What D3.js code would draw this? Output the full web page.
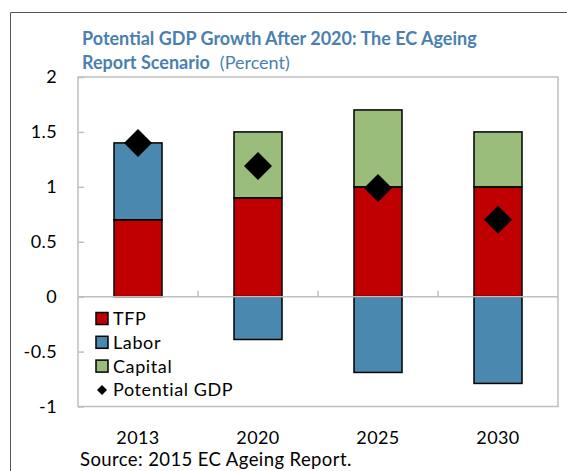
<!DOCTYPE html>
<html><head><meta charset="utf-8">
<script src="https://cdn.jsdelivr.net/npm/d3@7"></script>
<style>body{margin:0;background:#fff}svg{display:block}text{font-family:Lato,"Open Sans",sans-serif}</style>
</head><body><svg id="c" width="567" height="471"></svg>
<script>
const categories = ["2013","2020","2025","2030"];
const tfp = [0.7, 0.9, 1.0, 1.0];
const labor = [0.7, -0.39, -0.69, -0.79];
const capital = [0.0, 0.6, 0.7, 0.5];
const gdp = [1.4, 1.19, 0.99, 0.7];
const yTicks = [2, 1.5, 1, 0.5, 0, -0.5, -1];
const seriesNames = ["TFP","Labor","Capital","Potential GDP"];
const colors = {TFP:"#C00000", Labor:"#4A88AF", Capital:"#9BBD7B"};

const svg = d3.select("#c");
const L = 78, R = 558, T = 77, B = 406.5;
const x = d3.scaleBand().domain(categories).range([L, R]).paddingInner(0.6).paddingOuter(0.3);
const xb = d3.scaleBand().domain(categories).range([L, R]);
const y = d3.scaleLinear().domain([-1, 2]).range([B, T]);

// outer frame
svg.append("path").attr("d", `M10.5,480 V12.5 H580`).attr("fill","none").attr("stroke","#555").attr("stroke-width",1);

// title
svg.append("text").attr("x", 82).attr("y", 45).attr("fill","#4A7FB0").attr("font-weight","bold").attr("font-size", 18)
  .text("Potential GDP Growth After 2020: The EC Ageing");
const t2 = svg.append("text").attr("x", 82).attr("y", 69).attr("fill","#4A7FB0").attr("font-size",18);
t2.append("tspan").attr("font-weight","bold").text("Report Scenario");
t2.append("tspan").attr("dx", 10).text("(Percent)");

// plot border
svg.append("rect").attr("x", L).attr("y", T).attr("width", R-L).attr("height", B-T).attr("fill","none").attr("stroke","#BFBFBF").attr("stroke-width",1.5);

// y axis
const yAxis = d3.axisLeft(y).tickValues(yTicks).tickSize(-6).tickPadding(21).tickFormat(d => String(d));
const ya = svg.append("g").attr("transform", `translate(${L},0)`).call(yAxis);
ya.select(".domain").remove();
ya.selectAll("line").attr("stroke","#BFBFBF").attr("stroke-width",1.5);
ya.selectAll("text").attr("font-size",18).attr("fill","#000").attr("letter-spacing","0.4px").style("font-family","Lato,'Open Sans',sans-serif");

// bars
const stacks = categories.map((c,i) => {
  const segs = [];
  let pos = 0, neg = 0;
  [["TFP",tfp[i]],["Labor",labor[i]],["Capital",capital[i]]].forEach(([k,v]) => {
    if (v >= 0) { segs.push({k, c, y0: pos, y1: pos + v}); pos += v; }
    else { segs.push({k, c, y0: neg + v, y1: neg}); neg += v; }
  });
  return segs;
}).flat().filter(s => s.y1 - s.y0 > 0);

svg.append("g").selectAll("rect").data(stacks).join("rect")
  .attr("x", d => x(d.c)).attr("width", x.bandwidth())
  .attr("y", d => y(d.y1)).attr("height", d => y(d.y0) - y(d.y1))
  .attr("fill", d => colors[d.k]).attr("stroke","#000").attr("stroke-width",1.5);

// zero line + category ticks
svg.append("line").attr("x1", L).attr("x2", R).attr("y1", y(0)).attr("y2", y(0)).attr("stroke","#BFBFBF").attr("stroke-width",1.5);
svg.append("g").selectAll("line").data(categories.slice(1)).join("line")
  .attr("x1", d => xb(d)).attr("x2", d => xb(d)).attr("y1", y(0)).attr("y2", y(0)-6)
  .attr("stroke","#BFBFBF").attr("stroke-width",1.5);

// diamonds
const dsz = 14;
svg.append("g").selectAll("path").data(categories).join("path")
  .attr("transform", (d,i) => `translate(${xb(d)+xb.bandwidth()/2},${y(gdp[i])})`)
  .attr("d", `M0,${-dsz} L${dsz},0 L0,${dsz} L${-dsz},0 Z`).attr("fill","#000");

// x labels
svg.append("g").selectAll("text").data(categories).join("text")
  .attr("x", d => xb(d)+xb.bandwidth()/2).attr("y", 444).attr("text-anchor","middle")
  .attr("font-size",18).attr("letter-spacing","0.4px").text(d => d);

// legend
const lg = svg.append("g");
seriesNames.forEach((n,i) => {
  const yy = 319 + i*23.8;
  if (n !== "Potential GDP") {
    lg.append("rect").attr("x", 96).attr("y", yy-6.5).attr("width", 12).attr("height", 12)
      .attr("fill", colors[n]).attr("stroke","#000").attr("stroke-width",1.5);
  } else {
    lg.append("path").attr("transform", `translate(102,${yy-0.5})`).attr("d","M0,-5 L5,0 L0,5 L-5,0 Z").attr("fill","#000");
  }
  lg.append("text").attr("x", 113).attr("y", yy+6).attr("font-size",18).attr("letter-spacing","0.6px").text(n);
});

// source
svg.append("text").attr("x", 80).attr("y", 466).attr("font-size",18.5).attr("letter-spacing","0.4px").text("Source: 2015 EC Ageing Report.");
</script></body></html>
